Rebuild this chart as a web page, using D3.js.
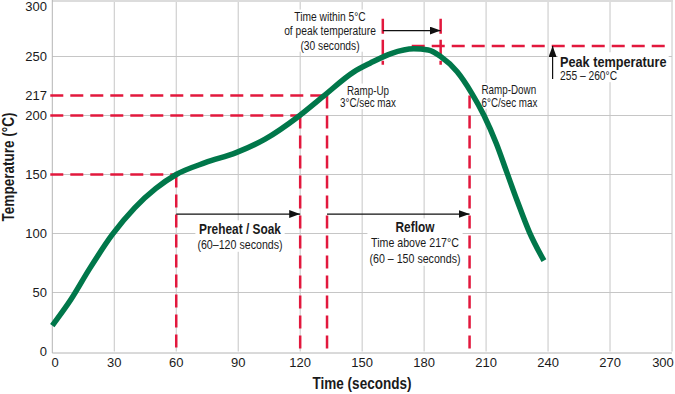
<!DOCTYPE html>
<html>
<head>
<meta charset="utf-8">
<script src="https://cdn.jsdelivr.net/npm/d3@7"></script>
<style>
body { margin: 0; background: #fff; }
text { font-family: "Liberation Sans", Arial, sans-serif; fill: #1a1a1a; }
.tick { font-size: 13px; }
</style>
</head>
<body>
<script>
let width = 675
let height = 394
let narrow = 0.82 // squeeze to look like a condensed face

// axis ticks
let timeTicks = [0, 30, 60, 90, 120, 150, 180, 210, 240, 270, 300]
let tempTicks = [0, 50, 100, 150, 200, 217, 250, 300]

// reflow profile (seconds, °C)
let profileTime = [0, 9, 18, 29, 40, 50, 60, 74, 89, 103, 119, 131, 146, 154, 164, 175, 182, 188, 196, 203, 209, 215, 220, 225, 231, 238]
let profileTemp = [22, 44, 70, 99, 122, 138, 150, 160, 168.5, 180, 199, 216, 237, 244.5, 252.5, 256.5, 255.5, 250, 237, 219, 200, 176, 152, 128, 101, 77]

// red guide lines
let guideTime = [60, 120, 133, 202]
let guideTemp = [150, 200, 217, 217]
let guideHorizontal = [true, true, true, false]

// peak zone
let peakTemp = 259
let peakLineFrom = 174
let peakLineTo = 297
let windowTime = [160, 188]
let windowTemp = [282, 243]

let x = d3.scaleLinear().domain([0, 300]).range([52.3, 672])
let y = d3.scaleLinear().domain([0, 300]).range([351.5, -2.5])

let red = "#e2183d"
let green = "#00774a"
let grid = "#c6c6c6"

let svg = d3.select("body")
.append("svg")
.attr("width", width)
.attr("height", height)

let defs = svg.append("defs")
defs.append("marker")
.attr("id", "head")
.attr("markerUnits", "userSpaceOnUse")
.attr("markerWidth", 11)
.attr("markerHeight", 8)
.attr("refX", 11)
.attr("refY", 4)
.attr("orient", "auto")
.append("path")
.attr("d", "M0,0 L11,4 L0,8 Z")
.attr("fill", "#111")

// gridlines
svg.append("g")
.selectAll("line")
.data(timeTicks.filter(d => d > 0))
.join("line")
.attr("x1", d => x(d)).attr("x2", d => x(d))
.attr("y1", y(0)).attr("y2", 1)
.attr("stroke", grid)

svg.append("g")
.selectAll("line")
.data(tempTicks.filter(d => d > 0 && d < 300 && d % 50 === 0))
.join("line")
.attr("x1", x(0)).attr("x2", x(300))
.attr("y1", d => y(d)).attr("y2", d => y(d))
.attr("stroke", grid)

svg.append("line")
.attr("x1", x(0)).attr("x2", x(300) + 1)
.attr("y1", 1).attr("y2", 1)
.attr("stroke", "#dcdcdc").attr("stroke-width", 2)

svg.append("line")
.attr("x1", x(0)).attr("x2", x(0))
.attr("y1", 0).attr("y2", y(0) + 1.5)
.attr("stroke", "#b4b4b4")

svg.append("line")
.attr("x1", x(0)).attr("x2", x(300))
.attr("y1", y(0) + 1.5).attr("y2", y(0) + 1.5)
.attr("stroke", "#b4b4b4")

// tick labels
svg.append("g")
.selectAll("text")
.data(tempTicks)
.join("text")
.attr("class", "tick")
.attr("x", 47)
.attr("y", d => Math.max(y(d), 6))
.attr("dy", "0.35em")
.attr("text-anchor", "end")
.text(d => d)

svg.append("g")
.selectAll("text")
.data(timeTicks)
.join("text")
.attr("class", "tick")
.attr("x", d => Math.min(Math.max(x(d), 55), 663))
.attr("y", 366.5)
.attr("text-anchor", "middle")
.text(d => d)

// axis titles
svg.append("text")
.attr("transform", "translate(362,389) scale(" + narrow + ",1)")
.attr("text-anchor", "middle")
.style("font-size", "16.5px").style("font-weight", "bold")
.text("Time (seconds)")

svg.append("text")
.attr("transform", "translate(14,167) rotate(-90) scale(" + narrow + ",1)")
.attr("text-anchor", "middle")
.style("font-size", "16.5px").style("font-weight", "bold")
.text("Temperature (°C)")

// annotation blocks with white backing
function block(cx, anchor, lines) {
	let g = svg.append("g")
	g.selectAll("text")
	.data(lines)
	.join("text")
	.attr("transform", d => "translate(" + cx + "," + d.y + ") scale(" + narrow + ",1)")
	.attr("text-anchor", anchor)
	.style("font-size", d => d.size + "px")
	.style("font-weight", d => d.bold ? "bold" : "normal")
	.text(d => d.text)
	let b = g.node().getBBox()
	g.insert("rect", "text")
	.attr("x", b.x - 2).attr("y", b.y)
	.attr("width", b.width + 4).attr("height", b.height)
	.attr("fill", "#fff")
}

block(330, "middle", [
	{text: "Time within 5°C", y: 20.5, size: 12.5},
	{text: "of peak temperature", y: 35, size: 12.5},
	{text: "(30 seconds)", y: 49.5, size: 12.5}
])
block(368, "middle", [
	{text: "Ramp-Up", y: 94.5, size: 12},
	{text: "3°C/sec max", y: 107, size: 12}
])
block(481.5, "start", [
	{text: "Ramp-Down", y: 94, size: 12},
	{text: "6°C/sec max", y: 106.5, size: 12}
])
block(560, "start", [
	{text: "Peak temperature", y: 66.5, size: 15.5, bold: true},
	{text: "255 – 260°C", y: 80, size: 12.5}
])
block(240, "middle", [
	{text: "Preheat / Soak", y: 233.5, size: 14.5, bold: true},
	{text: "(60–120 seconds)", y: 248.5, size: 13}
])
block(415, "middle", [
	{text: "Reflow", y: 231.5, size: 14.5, bold: true},
	{text: "Time above 217°C", y: 247.3, size: 13},
	{text: "(60 – 150 seconds)", y: 262.5, size: 13}
])

// red dashed guides
let guides = svg.append("g")
.attr("stroke", red)
.attr("stroke-width", 2.5)
.attr("stroke-dasharray", "13,7")
.attr("fill", "none")

guideTime.forEach((t, i) => {
	if (guideHorizontal[i]) {
		guides.append("line")
		.attr("x1", x(0) - 2).attr("x2", x(t))
		.attr("y1", y(guideTemp[i])).attr("y2", y(guideTemp[i]))
	}
	guides.append("line")
	.attr("x1", x(t)).attr("x2", x(t))
	.attr("y1", y(guideTemp[i])).attr("y2", y(0) + 1.5)
})

guides.append("line")
.attr("x1", x(peakLineFrom)).attr("x2", x(peakLineTo))
.attr("y1", y(peakTemp)).attr("y2", y(peakTemp))

windowTime.forEach(t => {
	guides.append("line")
	.attr("x1", x(t)).attr("x2", x(t))
	.attr("y1", y(windowTemp[0])).attr("y2", y(windowTemp[1]))
	.attr("stroke-dasharray", "15,6")
})

// profile curve
let pts = profileTime.map((t, i) => [t, profileTemp[i]])
let line = d3.line()
.x(d => x(d[0]))
.y(d => y(d[1]))
.curve(d3.curveMonotoneX)

svg.append("path")
.attr("d", line(pts))
.attr("fill", "none")
.attr("stroke", green)
.attr("stroke-width", 5.5)

// arrows
function arrow(t1, v1, t2, v2) {
	svg.append("line")
	.attr("x1", x(t1)).attr("y1", y(v1))
	.attr("x2", x(t2)).attr("y2", y(v2))
	.attr("stroke", "#111")
	.attr("stroke-width", 1.2)
	.attr("marker-end", "url(#head)")
}

arrow(60, 116.5, 120, 116.5)
arrow(133, 116.5, 202, 116.5)
arrow(windowTime[0], 272, windowTime[1], 272)
arrow(242.2, 231, 242.2, peakTemp)
</script>
</body>
</html>
